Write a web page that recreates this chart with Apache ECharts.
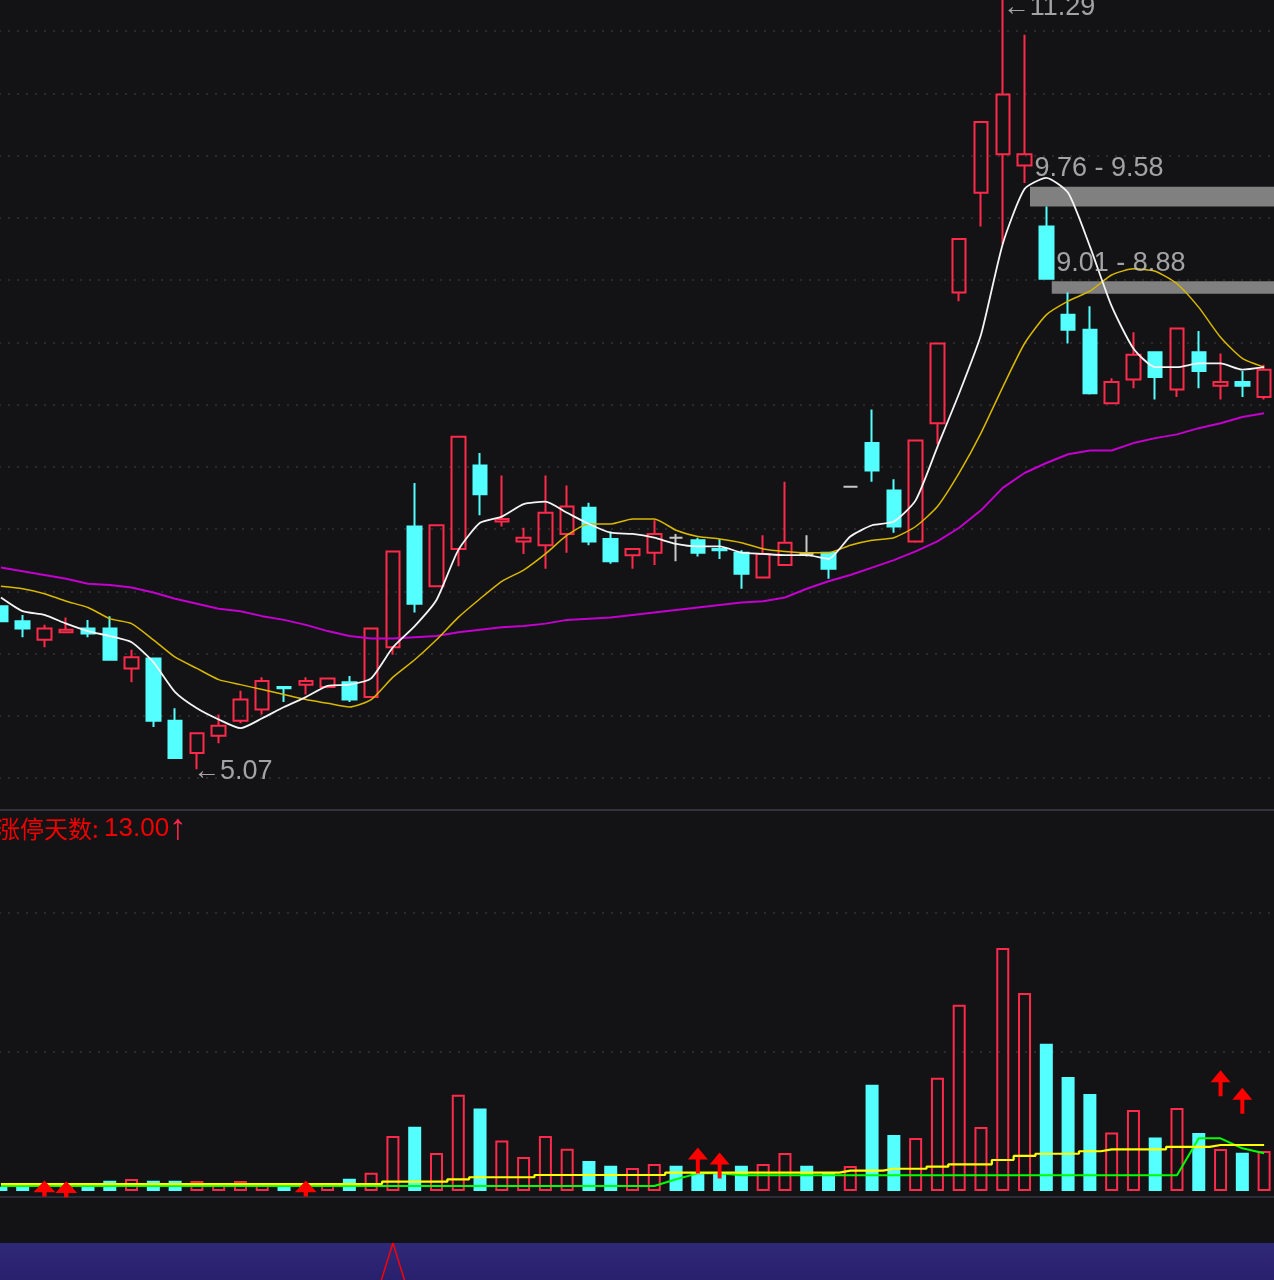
<!DOCTYPE html>
<html><head><meta charset="utf-8">
<style>html,body{margin:0;padding:0;background:#131214}#c{width:1274px;height:1280px}</style>
<script src="https://cdn.jsdelivr.net/npm/echarts@6/dist/echarts.min.js"></script>
</head><body><div id="c"></div>
<script>
// [open, close, low, high]
const candles = [
[6.38,6.26,6.26,6.38],[6.26,6.20,6.13,6.31],[6.11,6.20,6.05,6.23],[6.17,6.19,6.17,6.29],[6.20,6.16,6.13,6.27],
[6.20,5.95,5.95,6.30],[5.88,5.97,5.77,6.03],[5.96,5.46,5.41,5.96],[5.46,5.16,5.16,5.56],[5.20,5.36,5.07,5.36],
[5.34,5.42,5.28,5.51],[5.46,5.63,5.44,5.70],[5.55,5.78,5.51,5.81],[5.73,5.72,5.61,5.73],[5.75,5.78,5.67,5.81],
[5.73,5.80,5.72,5.80],[5.77,5.63,5.61,5.82],[5.65,6.20,5.65,6.20],[6.05,6.82,5.99,6.82],[7.02,6.40,6.33,7.37],
[6.54,7.03,6.54,7.03],[6.84,7.74,6.70,7.74],[7.51,7.28,7.11,7.61],[7.06,7.08,7.02,7.43],[6.90,6.93,6.80,7.01],
[6.87,7.13,6.68,7.43],[6.96,7.18,6.81,7.35],[7.17,6.90,6.87,7.21],[6.92,6.74,6.72,6.98],[6.79,6.84,6.68,6.84],
[6.81,6.96,6.71,7.07],[6.93,6.93,6.74,6.96],[6.91,6.81,6.78,6.93],[6.84,6.83,6.76,6.92],[6.81,6.64,6.52,6.83],
[6.61,6.80,6.61,6.95],[6.71,6.89,6.71,7.38],[6.80,6.80,6.78,6.95],[6.81,6.68,6.60,6.81],[7.34,7.34,7.34,7.34],
[7.69,7.47,7.38,7.96],[7.31,7.02,6.97,7.40],[6.90,7.71,6.89,7.71],[7.85,8.49,7.68,8.49],[8.90,9.33,8.83,9.33],
[9.70,10.27,9.43,10.27],[10.01,10.49,9.29,11.29],[9.92,10.01,9.78,10.97],[9.43,9.01,9.01,9.59],[8.72,8.60,8.49,8.90],
[8.60,8.09,8.08,8.79],[8.01,8.18,8.01,8.21],[8.20,8.40,8.13,8.58],[8.42,8.22,8.04,8.42],[8.12,8.61,8.06,8.61],
[8.42,8.27,8.13,8.59],[8.15,8.18,8.04,8.41],[8.18,8.15,8.06,8.27],[8.06,8.28,8.04,8.32]];
const ma5 = [6.45,6.34,6.31,6.24,6.18,6.14,6.09,5.93,5.69,5.56,5.47,5.40,5.48,5.57,5.65,5.74,5.75,5.80,6.05,6.22,
6.43,6.83,7.05,7.10,7.20,7.22,7.13,7.04,6.97,6.96,6.93,6.88,6.86,6.86,6.81,6.80,6.79,6.79,6.76,6.94,
7.03,7.06,7.23,7.66,8.09,8.56,9.29,9.73,9.82,9.70,9.27,8.79,8.45,8.30,8.30,8.33,8.33,8.28,8.30];
const ma10 = [6.54,6.52,6.48,6.42,6.37,6.28,6.24,6.11,5.97,5.88,5.79,5.75,5.71,5.67,5.63,5.60,5.57,5.63,5.81,5.95,
6.11,6.29,6.44,6.58,6.67,6.80,6.95,7.04,7.04,7.08,7.08,6.99,6.94,6.92,6.89,6.84,6.82,6.81,6.81,6.87,
6.91,6.93,7.02,7.18,7.45,7.77,8.14,8.49,8.72,8.83,8.91,9.04,9.09,9.07,8.97,8.78,8.54,8.37,8.30];
const ma60 = [6.69,6.66,6.63,6.60,6.56,6.55,6.53,6.49,6.44,6.40,6.36,6.34,6.30,6.27,6.23,6.18,6.14,6.12,6.12,6.13,
6.14,6.17,6.19,6.21,6.22,6.24,6.27,6.28,6.29,6.31,6.33,6.35,6.37,6.39,6.41,6.42,6.45,6.52,6.58,6.63,
6.69,6.75,6.82,6.90,7.01,7.15,7.33,7.45,7.53,7.60,7.63,7.63,7.69,7.73,7.76,7.81,7.85,7.90,7.93];
const volumes = [3,3,3,3,3,7.4,8.6,7.4,7.4,7.2,5.8,7.2,5.8,5.8,5,5.8,8.9,13.2,39.6,46.3,
27.3,69.2,59.4,36.3,24.5,39.6,30.4,21.6,18.2,16.5,19.5,18.2,12.9,12.9,18.2,19.5,27.3,18.2,12.9,18,
76.5,40.3,38.1,81.5,134,46,174.8,142.4,105.9,82,69.8,42,58.3,38.4,59.7,41.8,30.2,27.6,28.8];
const volUp = [0,0,1,1,0,0,1,0,0,1,1,1,1,0,1,1,0,1,1,0,
1,1,0,1,1,1,1,0,0,1,1,0,0,0,0,1,1,0,0,1,
0,0,1,1,1,1,1,1,0,0,0,1,1,0,1,0,1,0,1];
const volLineYellow = [5,5,5,5,5,5,5,5,5,5,5,5,5,5,5,5,5,5,6.7,6.7,
6.7,8.4,9.9,9.9,9.9,11.5,11.5,11.5,11.5,11.5,11.5,13.2,13.2,13.2,13.2,13.2,13.2,13.2,13.2,14.6,
14.6,16,16,17.5,19.2,19.2,22.3,25.2,26.8,26.8,28.6,30,30,30,31.7,31.7,33.1,33.1,33.1];
const volLineGreen = [3.6,3.6,3.6,3.6,3.6,3.6,3.6,3.6,3.6,3.6,3.6,3.6,3.6,3.6,3.6,3.6,3.6,3.6,3.6,3.6,
3.6,3.6,3.6,3.6,3.6,3.6,3.6,3.6,3.6,3.6,3.6,8.4,12.7,12.7,11.3,11.3,11.3,11.3,11.3,11.3,
11.3,11.3,11.3,11.3,11.3,11.3,11.3,11.3,11.3,11.3,11.3,11.3,11.3,11.3,11.3,37.9,37.9,30.7,27.1];
const arrowPoints = [[32,21.9],[33,18.4],[56,77.5],[57,64.9]];
const trianglePoints = [[2,1.8],[3,1.2],[14,1.8]];
const bands = [[47,9.75,9.59],[48,8.99,8.89]];
const priceLabels = [
  {at:[9,5.07], text:'\u21905.07', off:[-4,2]},
  {at:[46,11.29], text:'\u219011.29', off:[0,13]},
  {at:[47,9.76], text:'9.76 - 9.58', off:[10,-17]},
  {at:[48,9.01], text:'9.01 - 8.88', off:[10,-15]}
];
const spikeIndex = 18;
const spikeValues = [-89,100,-89];
const categories = candles.map((_, i) => String(i + 1));
const gridTicks = {priceMin:5, priceMax:11.5, priceStep:0.5, volMax:200, volStep:100};

const BG='#131214', RED='#FF2A4B', CYAN='#54FFFF', GRID='#2A2A2A';
const spike = categories.map((_, i) => { const d = i - spikeIndex + 1; return d >= 0 && d < 3 ? spikeValues[d] : null; });
const ARROW='path://M10 0L20 12L12 12L12 26L8 26L8 12L0 12Z';
const TRI='path://M10 0L20 11L12 11L12 15L8 15L8 11L0 11Z';
const split={show:true,showMinLine:true,lineStyle:{color:GRID,width:2,type:[2,7]}};
const hiddenX=(g)=>({type:'category',gridIndex:g,data:categories,boundaryGap:true,axisLine:{show:false},axisTick:{show:false},axisLabel:{show:false},splitLine:{show:false}});
const lineS=(data,color,width,extra)=>Object.assign({type:'line',data,symbol:'none',silent:true,lineStyle:{color,width},animation:false},extra||{});

const chart=echarts.init(document.getElementById('c'),null,{renderer:'canvas'});
chart.setOption({
  animation:false,
  backgroundColor:BG,
  title:{
    left:-9, top:806,
    text:'{a|\u6da8\u505c\u5929\u6570: }{b|13.00}{c|\u2191}',
    textStyle:{fontWeight:'normal',rich:{
      a:{fontFamily:'"Noto Sans CJK SC"',fontSize:24,fontWeight:'normal',color:'#F00000'},
      b:{fontFamily:'"Liberation Sans"',fontSize:26,fontWeight:'normal',color:'#F00000'},
      c:{fontFamily:'"Liberation Sans"',fontSize:36,fontWeight:'normal',color:'#FF2A4B'}
    }}
  },
  graphic:[
    {type:'rect',shape:{x:0,y:809,width:1274,height:2},style:{fill:'#33333F'},silent:true,z:0},
    {type:'rect',shape:{x:0,y:1196,width:1274,height:2},style:{fill:'#2C2C38'},silent:true,z:0}
  ],
  grid:[
    {outerBoundsMode:'none',left:-10,width:1285,top:-31.25,height:809.25},
    {outerBoundsMode:'none',left:-10,width:1285,top:913,height:278},
    {outerBoundsMode:'none',left:-10,width:1285,top:1243,height:37,show:true,borderWidth:0,
     backgroundColor:{type:'linear',x:0,y:0,x2:0,y2:1,colorStops:[{offset:0,color:'#2F2979'},{offset:1,color:'#29206C'}]}}
  ],
  xAxis:[hiddenX(0),hiddenX(1),hiddenX(2)],
  yAxis:[
    {type:'value',gridIndex:0,min:gridTicks.priceMin,max:gridTicks.priceMax,interval:gridTicks.priceStep,axisLine:{show:false},axisTick:{show:false},axisLabel:{show:false},splitLine:split},
    {type:'value',gridIndex:1,min:0,max:gridTicks.volMax,interval:gridTicks.volStep,axisLine:{show:false},axisTick:{show:false},axisLabel:{show:false},splitLine:Object.assign({},split,{showMinLine:false})},
    {type:'value',gridIndex:2,min:0,max:100,axisLine:{show:false},axisTick:{show:false},axisLabel:{show:false},splitLine:{show:false}}
  ],
  series:[
    {type:'custom',xAxisIndex:0,yAxisIndex:0,data:bands,encode:{x:0,y:[1,2]},silent:true,z:1,clip:true,
     renderItem:(params,api)=>{
       const a=api.coord([api.value(0),api.value(1)]), b=api.coord([api.value(0),api.value(2)]);
       const x=a[0]+api.size([1,0])[0]*0.25;
       return {type:'rect',shape:{x,y:a[1],width:params.coordSys.x+params.coordSys.width-x,height:b[1]-a[1]},style:{fill:'#808080'}};
     }},
    {type:'candlestick',xAxisIndex:0,yAxisIndex:0,data:candles,barWidth:14,silent:true,z:2,
     itemStyle:{color:'transparent',color0:CYAN,borderColor:RED,borderColor0:CYAN,borderColorDoji:'#C8C8C8',borderWidth:2}},
    lineS(ma60,'#C400D0',2,{xAxisIndex:0,yAxisIndex:0,z:3}),
    lineS(ma10,'#D9B800',1.5,{xAxisIndex:0,yAxisIndex:0,z:3,smooth:0.2}),
    lineS(ma5,'#F4F4F4',1.8,{xAxisIndex:0,yAxisIndex:0,z:4,smooth:0.2}),
    {type:'scatter',xAxisIndex:0,yAxisIndex:0,symbolSize:0,silent:true,z:6,clip:false,
     data:priceLabels.map(l=>({value:l.at,label:{show:true,position:'right',distance:0,formatter:l.text,offset:l.off,
       fontFamily:'"Liberation Sans"',fontSize:27,color:'#C8C8C8'}}))},
    {type:'bar',xAxisIndex:1,yAxisIndex:1,barWidth:13,silent:true,z:2,
     data:volumes.map((v,i)=>({value:v,itemStyle:volUp[i]?{color:'transparent',borderColor:RED,borderWidth:2}:{color:CYAN,borderColor:CYAN,borderWidth:2}}))},
    lineS(volLineGreen,'#00FF00',2,{xAxisIndex:1,yAxisIndex:1,z:3}),
    lineS(volLineYellow,'#FFFF00',2.2,{xAxisIndex:1,yAxisIndex:1,z:4,step:'middle'}),
    {type:'scatter',xAxisIndex:1,yAxisIndex:1,data:arrowPoints,symbol:ARROW,symbolSize:[20,26],itemStyle:{color:'#FF0000',opacity:1},silent:true,z:5,clip:false},
    {type:'scatter',xAxisIndex:1,yAxisIndex:1,data:trianglePoints,symbol:TRI,symbolSize:[22,16],itemStyle:{color:'#FF0000',opacity:1},silent:true,z:5,clip:false},
    lineS(spike,'#FF0000',1.5,{xAxisIndex:2,yAxisIndex:2,z:3,connectNulls:false,clip:true})
  ]
});
</script></body></html>
